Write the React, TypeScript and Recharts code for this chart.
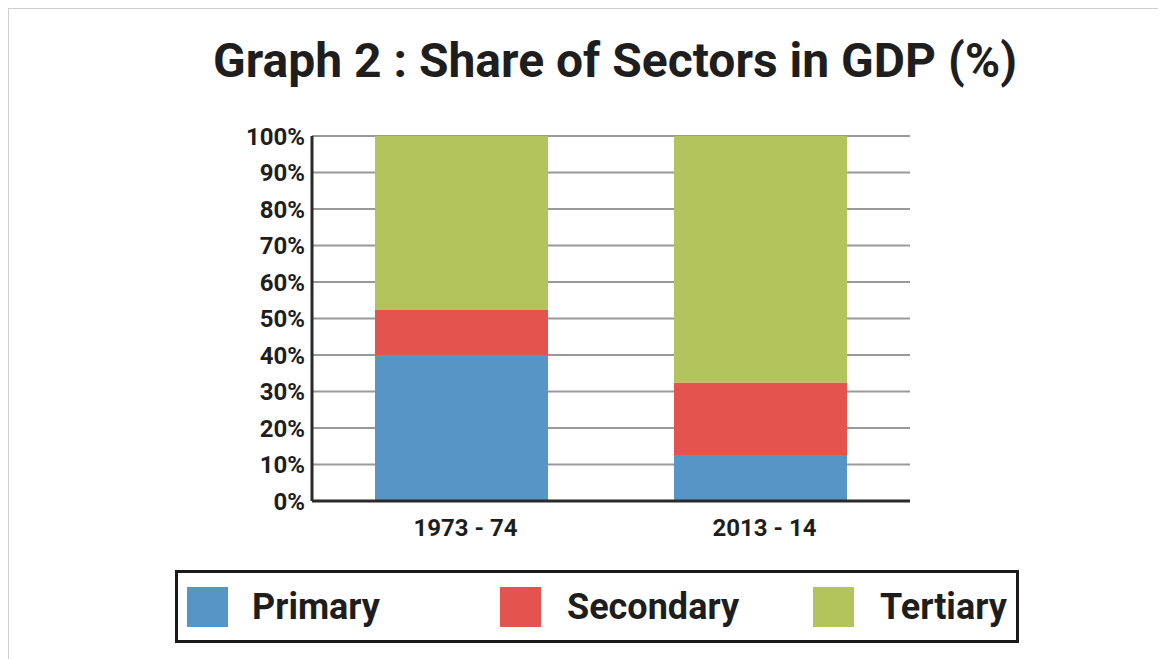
import React from "react";
import { BarChart, Bar, XAxis, YAxis, CartesianGrid } from "recharts";

const periods = ["1973 - 74", "2013 - 14"];
const primary = [40, 12.6];
const secondary = [12.3, 19.9];
const tertiary = [47.7, 67.5];
const yTicks = [0, 10, 20, 30, 40, 50, 60, 70, 80, 90, 100];

const series = [
  { key: "primary", name: "Primary", color: "#5795c6" },
  { key: "secondary", name: "Secondary", color: "#e2544d" },
  { key: "tertiary", name: "Tertiary", color: "#b4c45c" },
];

const data = periods.map((period, i) => ({
  period,
  primary: primary[i],
  secondary: secondary[i],
  tertiary: tertiary[i],
}));

const font = "Roboto, 'Noto Sans', sans-serif";

export default function App() {
  return (
    <div style={{ position: "relative", width: 1158, height: 651, fontFamily: font }}>
      {/* light frame round the picture */}
      <div
        style={{
          position: "absolute",
          left: -1,
          top: -1,
          width: 1200,
          height: 700,
          borderTop: "2px solid #cfcfcf",
          borderLeft: "2px solid #cfcfcf",
        }}
      />
      <div
        style={{
          position: "absolute",
          left: 107,
          top: 29,
          width: 1000,
          textAlign: "center",
          fontSize: 48,
          fontWeight: 700,
          lineHeight: 1,
          color: "#1e1e1e",
        }}
      >
        Graph 2 : Share of Sectors in GDP (%)
      </div>

      <div style={{ position: "absolute", left: 0, top: 0 }}>
        <BarChart
          width={1150}
          height={640}
          data={data}
          barSize={173}
          margin={{ top: 128, right: 248, bottom: 107, left: 0 }}
        >
          <CartesianGrid vertical={false} stroke="#999" strokeWidth={2} />
          <XAxis
            dataKey="period"
            axisLine={{ stroke: "#2a2a2a", strokeWidth: 3 }}
            tickLine={false}
            tickSize={0}
            tickMargin={18}
            height={40}
            tick={{ fontSize: 24, fontWeight: 700, fill: "#1e1e1e", fontFamily: font, dx: 4 }}
          />
          <YAxis
            width={304}
            domain={[0, 100]}
            ticks={yTicks}
            tickFormatter={(v: number) => `${v}%`}
            axisLine={{ stroke: "#2a2a2a", strokeWidth: 3 }}
            tickLine={false}
            tickSize={0}
            tickMargin={7}
            tick={{ fontSize: 24, fontWeight: 700, fill: "#1e1e1e", fontFamily: font }}
          />
          {series.map((s) => (
            <Bar
              key={s.key}
              dataKey={s.key}
              name={s.name}
              stackId="gdp"
              fill={s.color}
              isAnimationActive={false}
            />
          ))}
        </BarChart>
      </div>

      {/* legend box */}
      <div
        style={{
          position: "absolute",
          left: 167,
          top: 562,
          width: 844,
          height: 73,
          boxSizing: "border-box",
          border: "3px solid #1a1a1a",
          display: "flex",
          alignItems: "center",
          paddingLeft: 9,
        }}
      >
        {series.map((s, i) => (
          <div
            key={s.key}
            style={{
              width: i < series.length - 1 ? 313 : "auto",
              flexShrink: 0,
              display: "flex",
              alignItems: "center",
            }}
          >
            <div style={{ width: 41, height: 40, background: s.color }} />
            <span
              style={{
                marginLeft: i === 0 ? 24 : 26,
                fontSize: 36,
                fontWeight: 700,
                color: "#1e1e1e",
                whiteSpace: "nowrap",
              }}
            >
              {s.name}
            </span>
          </div>
        ))}
      </div>
    </div>
  );
}
